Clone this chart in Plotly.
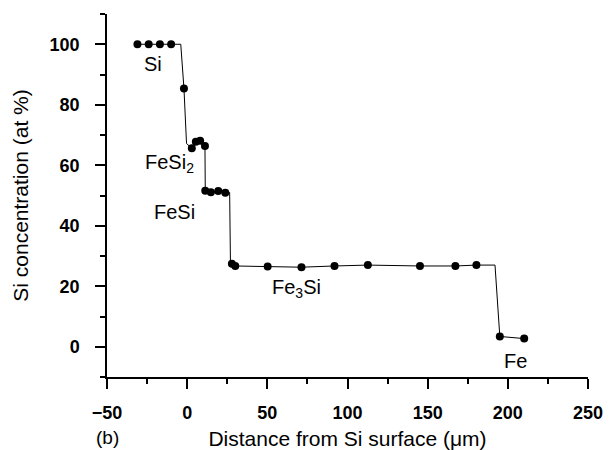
import plotly.graph_objects as go

# measured points
x_pts = [-31, -24, -17, -10, -2, 2.9, 5.4, 8.1, 11.1, 11.3, 14.8, 19.4, 23.8,
         27.9, 30, 50.2, 71.3, 91.9, 112.7, 145.2, 167.3, 180.4, 195, 210.2]
y_pts = [100, 100, 100, 100, 85.4, 65.6, 67.8, 68.1, 66.4, 51.6, 51.1, 51.5, 50.9,
         27.4, 26.7, 26.5, 26.3, 26.7, 27, 26.7, 26.7, 27, 3.4, 2.7]

# drawn profile line vertices
x_line = [-31, -4, -2, -0.4, 2.9, 5.4, 8.1, 11.1, 11.3, 14.8, 19.4, 23.8, 26.5,
          27, 27.9, 30, 50.2, 71.3, 91.9, 112.7, 145.2, 167.3, 180.4, 192, 195, 210.2]
y_line = [100, 100, 85.4, 67.2, 65.6, 67.8, 68.1, 66.4, 51.6, 51.1, 51.5, 50.9, 51,
          27.5, 27.4, 26.7, 26.5, 26.3, 26.7, 27, 26.7, 26.7, 27, 27, 3.4, 2.7]

phase_labels = ["Si", "FeSi<sub>2</sub>", "FeSi", "Fe<sub>3</sub>Si", "Fe"]
phase_x = [-21.5, -11, -8, 68, 205]
phase_y = [93.4, 60.6, 44.6, 19.4, -4.8]

x_ticks = [-50, 0, 50, 100, 150, 200, 250]
y_ticks = [0, 20, 40, 60, 80, 100]

font_family = "Liberation Sans, Arial, sans-serif"

fig = go.Figure()
fig.add_trace(go.Scatter(x=x_line, y=y_line, mode="lines",
                         line=dict(color="black", width=1), hoverinfo="skip"))
fig.add_trace(go.Scatter(x=x_pts, y=y_pts, mode="markers",
                         marker=dict(color="black", size=8)))

for t, xx, yy in zip(phase_labels, phase_x, phase_y):
    fig.add_annotation(x=xx, y=yy, text=t, showarrow=False,
                       font=dict(family=font_family, size=20, color="black"))

fig.add_annotation(xref="paper", yref="paper", x=0.0, y=-0.166, text="(b)",
                   showarrow=False, xanchor="center", yanchor="middle", borderpad=0,
                   font=dict(family=font_family, size=19, color="black"))

fig.update_layout(
    width=611, height=450,
    margin=dict(l=107, r=23, t=14, b=73, autoexpand=False),
    plot_bgcolor="white", paper_bgcolor="white",
    showlegend=False,
    font=dict(family=font_family, color="black"),
    xaxis=dict(range=[-50, 250], tickvals=x_ticks, showgrid=False, zeroline=False,
               automargin=False,
               showline=True, linecolor="black", linewidth=1.5,
               ticks="outside", ticklen=10, tickwidth=1.5, tickcolor="black",
               minor=dict(tickvals=[-25, 25, 75, 125, 175, 225], ticks="outside",
                          ticklen=5, tickwidth=1.5, tickcolor="black"),
               tickfont=dict(size=18, weight="bold", color="black"),
               ticklabelstandoff=9,
               title=dict(text="Distance from Si surface (μm)",
                          font=dict(size=21, color="black"), standoff=12)),
    yaxis=dict(range=[-10, 110], tickvals=y_ticks, showgrid=False, zeroline=False,
               automargin=False,
               showline=True, linecolor="black", linewidth=1.5,
               ticks="outside", ticklen=10, tickwidth=1.5, tickcolor="black",
               minor=dict(tickvals=[-10, 10, 30, 50, 70, 90, 110], ticks="outside",
                          ticklen=5, tickwidth=1.5, tickcolor="black"),
               tickfont=dict(size=18, weight="bold", color="black"),
               ticklabelstandoff=12,
               title=dict(text="Si concentration (at %)",
                          font=dict(size=21, color="black"), standoff=15)),
)

fig.write_html("out.html")
